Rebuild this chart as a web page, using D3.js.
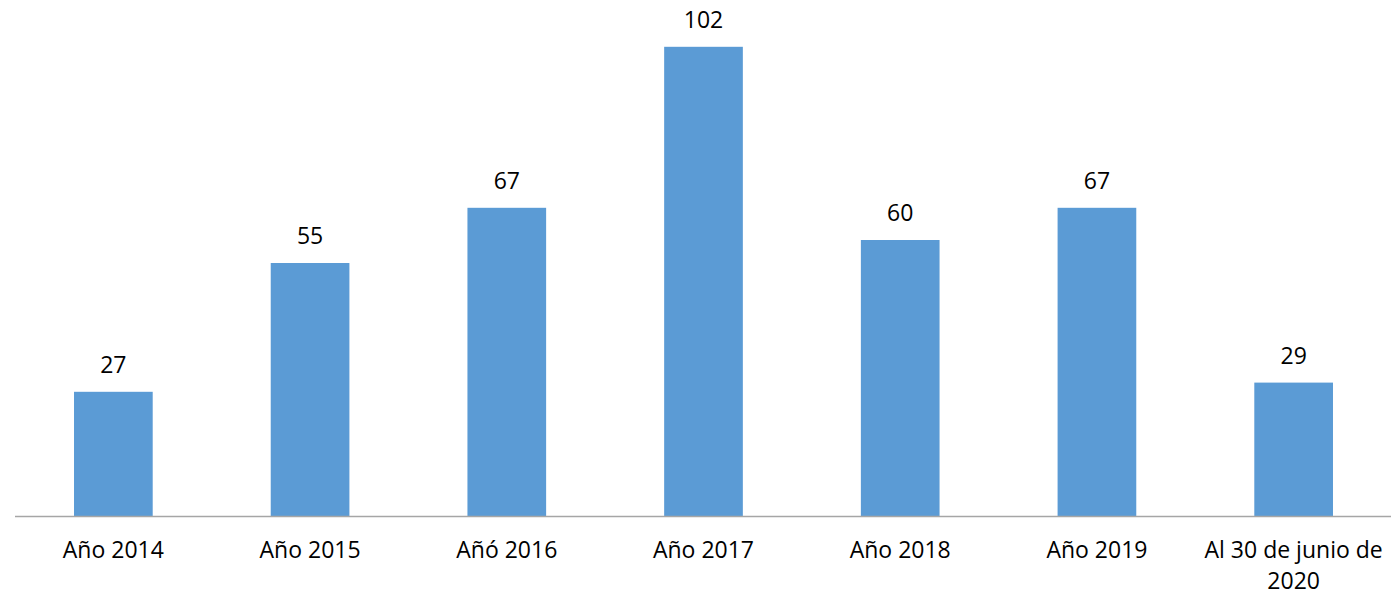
<!DOCTYPE html>
<html>
<head>
<meta charset="utf-8">
<script src="https://cdn.jsdelivr.net/npm/d3@7"></script>
<style>
  body { margin: 0; background: #fff; }
  text { font-family: "Open Sans", "Liberation Sans", sans-serif; fill: #000; }
</style>
</head>
<body>
<svg id="chart" width="1391" height="595"></svg>
<script>
// categories (multi-line labels split by "\n")
var categories = ["Año 2014", "Año 2015", "Añó 2016", "Año 2017", "Año 2018", "Año 2019", "Al 30 de junio de\n2020"];
var values = [27, 55, 67, 102, 60, 67, 29];

var svg = d3.select("#chart");
var width = 1391, height = 595;
var baseY = 516;

var x = d3.scaleBand()
  .domain(categories)
  .range([15, 1392])
  .paddingInner(0.6)
  .paddingOuter(0.3);

var y = d3.scaleLinear()
  .domain([0, 110])
  .range([baseY, 10]);

// bars
svg.selectAll("rect.bar")
  .data(values)
  .enter()
  .append("rect")
  .attr("class", "bar")
  .attr("x", (d, i) => x(categories[i]))
  .attr("y", d => y(d))
  .attr("width", x.bandwidth())
  .attr("height", d => baseY - y(d))
  .style("fill", "#5B9BD5");

// value labels
svg.selectAll("text.val")
  .data(values)
  .enter()
  .append("text")
  .attr("class", "val")
  .attr("x", (d, i) => x(categories[i]) + x.bandwidth() / 2)
  .attr("y", d => y(d) - 19)
  .attr("text-anchor", "middle")
  .style("font-size", "23px")
  .text(d => d);

// x axis line
svg.append("line")
  .attr("x1", 15)
  .attr("x2", width)
  .attr("y1", baseY + 0.5)
  .attr("y2", baseY + 0.5)
  .style("stroke", "#A6A6A6")
  .style("stroke-width", 1.3);

// category labels
var lab = svg.selectAll("text.cat")
  .data(categories)
  .enter()
  .append("text")
  .attr("class", "cat")
  .attr("text-anchor", "middle")
  .style("font-size", "23px")
  .attr("x", d => x(d) + x.bandwidth() / 2)
  .attr("y", 558);

lab.each(function(d) {
  var parts = d.split("\n");
  var t = d3.select(this);
  var cx = x(d) + x.bandwidth() / 2;
  parts.forEach(function(p, k) {
    t.append("tspan")
      .attr("x", cx)
      .attr("dy", k == 0 ? 0 : 31)
      .text(p);
  });
});
</script>
</body>
</html>
